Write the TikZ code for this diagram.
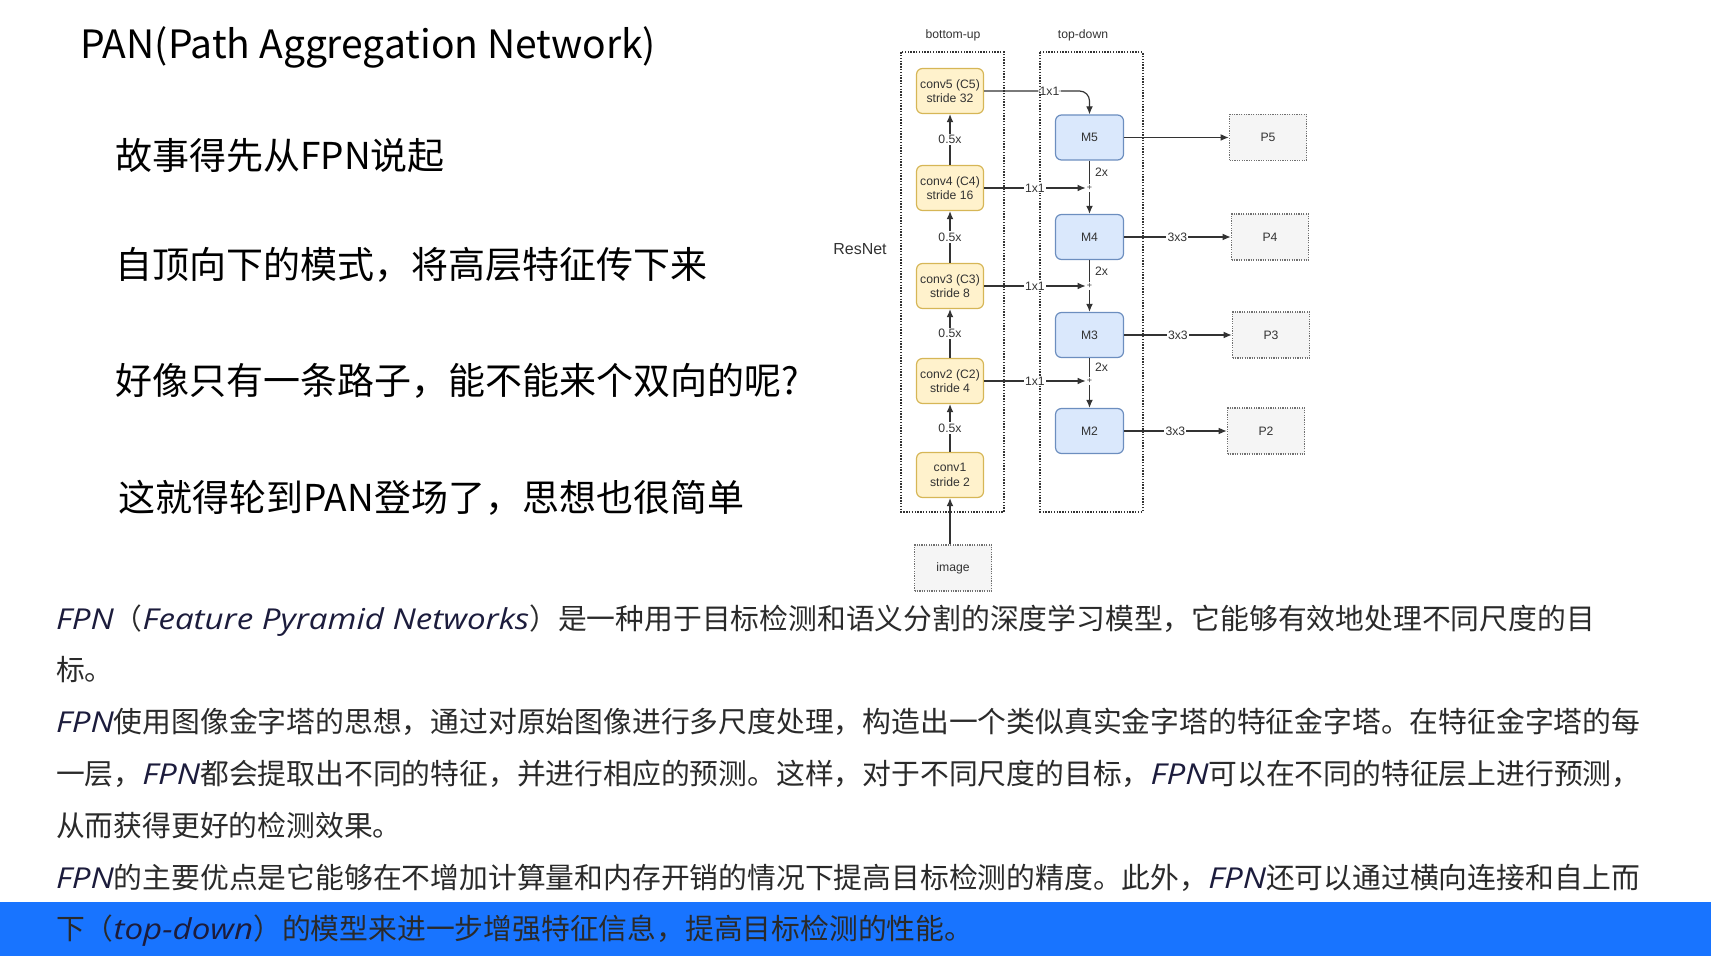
\documentclass[tikz,border=0pt]{standalone}
\usepackage{fontspec}
\setmainfont{Liberation Sans}
\newfontfamily\cjk{Noto Sans CJK SC}
\newfontfamily\hand{Open Sans}[FakeStretch=1.15]
\usepackage{tikz}
\usetikzlibrary{positioning, arrows.meta}
\definecolor{convFill}{HTML}{FFF2CC}
\definecolor{convLine}{HTML}{D6B656}
\definecolor{mFill}   {HTML}{DAE8FC}
\definecolor{mLine}   {HTML}{6C8EBF}
\definecolor{outFill} {HTML}{F5F5F5}
\definecolor{outLine} {HTML}{707070}
\definecolor{cEdge}   {HTML}{333333}
\definecolor{bandBlue}{HTML}{1874FF}
\definecolor{bodyText}{HTML}{2A2A2A}
\definecolor{latinText}{HTML}{1C1C3C}
\newcommand{\en}[1]{{\hand\itshape\color{latinText}#1}}

\begin{document}
\begin{tikzpicture}[x=0.5pt, y=-0.5pt,
    cbox/.style={draw=convLine, fill=convFill, rounded corners=3pt, line width=0.6pt,
                 minimum width=33.5pt, minimum height=22.5pt, align=center, inner sep=0pt,
                 font=\fontsize{6.1}{7.2}\selectfont, text=cEdge},
    mbox/.style={draw=mLine, fill=mFill, rounded corners=3pt, line width=0.6pt,
                 minimum width=34pt, minimum height=22.5pt, inner sep=0pt,
                 font=\fontsize{6.1}{7.2}\selectfont, text=cEdge},
    obox/.style={draw=outLine, fill=outFill, dash pattern=on 0.6pt off 0.6pt, line width=0.8pt,
                 minimum width=38.5pt, minimum height=23pt, inner sep=0pt,
                 font=\fontsize{6.1}{7.2}\selectfont, text=cEdge},
    frame/.style={draw=cEdge, dash pattern=on 0.7pt off 0.7pt, line width=0.9pt},
    arr/.style={-{Latex[length=4pt,width=3.4pt]}, line width=0.6pt, draw=cEdge},
    edge/.style={line width=0.6pt, draw=cEdge},
    lbl/.style={fill=white, inner sep=0.6pt, font=\fontsize{6.1}{7.2}\selectfont, text=cEdge},
    tag/.style={inner sep=0.5pt, font=\fontsize{6.1}{7.2}\selectfont, text=cEdge},
  ]
  \useasboundingbox (0,0) rectangle (1711,956);
  \fill[bandBlue] (0,902) rectangle (1711,956);

  % slide text
  \node[anchor=base west, inner sep=0pt, font=\cjk\fontsize{19.5}{23}\selectfont]
    (title) at (80,59) {PAN(Path Aggregation Network)};
  \foreach \y/\x/\txt/\name in {170/115/故事得先从FPN说起/b1, 279/115/自顶向下的模式，将高层特征传下来/b2,
                                395/115/好像只有一条路子，能不能来个双向的呢?/b3, 511/118/这就得轮到PAN登场了，思想也很简单/b4}{
    \node[anchor=base west, inner sep=0pt, font=\cjk\fontsize{18.5}{22}\selectfont]
      (\name) at (\x,\y) {\txt};
  }
  \foreach \y/\txt/\name in {
      629/\en{FPN}（\en{Feature Pyramid Networks}）是一种用于目标检测和语义分割的深度学习模型，它能够有效地处理不同尺度的目/t1,
      680.8/标。/t2,
      732.6/\en{FPN}使用图像金字塔的思想，通过对原始图像进行多尺度处理，构造出一个类似真实金字塔的特征金字塔。在特征金字塔的每/t3,
      784.4/一层，\en{FPN}都会提取出不同的特征，并进行相应的预测。这样，对于不同尺度的目标，\en{FPN}可以在不同的特征层上进行预测，/t4,
      836.2/从而获得更好的检测效果。/t5,
      888/\en{FPN}的主要优点是它能够在不增加计算量和内存开销的情况下提高目标检测的精度。此外，\en{FPN}还可以通过横向连接和自上而/t6,
      939.8/下（\en{top-down}）的模型来进一步增强特征信息，提高目标检测的性能。/t7}{
    \node[anchor=base west, inner sep=0pt, text=bodyText, font=\cjk\fontsize{14.4}{17}\selectfont]
      (\name) at (55.6,\y) {\txt};
  }

  % diagram
  \draw[frame] (900.7,52.3) rectangle (1004,511.7);
  \draw[frame] (1040,52.3) rectangle (1142.7,511.7);
  \node[tag] (buLabel) at (953,35) {bottom-up};
  \node[tag] (tdLabel) at (1083,35) {top-down};
  \node[inner sep=0pt, font=\fontsize{8}{9}\selectfont, text=cEdge] (resnet) at (860,249) {ResNet};

  \node[cbox] (c5) at (950,91)  {conv5 (C5)\\stride 32};
  \node[cbox] (c4) at (950,188) {conv4 (C4)\\stride 16};
  \node[cbox] (c3) at (950,286) {conv3 (C3)\\stride 8};
  \node[cbox] (c2) at (950,381) {conv2 (C2)\\stride 4};
  \node[cbox] (c1) at (950,475) {conv1\\stride 2};
  \node[obox] (img) at (953,568) {image};

  \node[mbox] (m5) at (1089.5,137.5) {M5};
  \node[mbox] (m4) at (1089.5,237)   {M4};
  \node[mbox] (m3) at (1089.5,335)   {M3};
  \node[mbox] (m2) at (1089.5,431)   {M2};

  \node[obox] (p5) at (1268,137.5) {P5};
  \node[obox] (p4) at (1270,237)   {P4};
  \node[obox] (p3) at (1271,335)   {P3};
  \node[obox] (p2) at (1266,431)   {P2};

  \node[inner sep=0.4pt, font=\fontsize{4.5}{5}\selectfont, text=cEdge] (j4) at (1089.5,188) {+};
  \node[inner sep=0.4pt, font=\fontsize{4.5}{5}\selectfont, text=cEdge] (j3) at (1089.5,286) {+};
  \node[inner sep=0.4pt, font=\fontsize{4.5}{5}\selectfont, text=cEdge] (j2) at (1089.5,381) {+};

  % bottom-up path
  \draw[arr] (img.north -| c1) -- (c1);
  \foreach \a/\b in {c1/c2, c2/c3, c3/c4, c4/c5}{
    \draw[arr] (\a) -- node[lbl]{0.5x} (\b);
  }

  % lateral 1x1
  \draw[arr, rounded corners=5pt] (c5.east) -| node[lbl, pos=0.31]{1x1} (m5.north);
  \foreach \c/\j in {c4/j4, c3/j3, c2/j2}{
    \draw[arr] (\c) -- node[lbl]{1x1} (\j);
  }

  % top-down path
  \foreach \m/\j/\n in {m5/j4/m4, m4/j3/m3, m3/j2/m2}{
    \draw[edge] (\m) -- node[tag, right=2pt]{2x} (\j);
    \draw[arr] (\j) -- (\n);
  }

  % outputs
  \draw[arr] (m5) -- (p5);
  \foreach \m/\p in {m4/p4, m3/p3, m2/p2}{
    \draw[arr] (\m) -- node[lbl]{3x3} (\p);
  }
\end{tikzpicture}
\end{document}
